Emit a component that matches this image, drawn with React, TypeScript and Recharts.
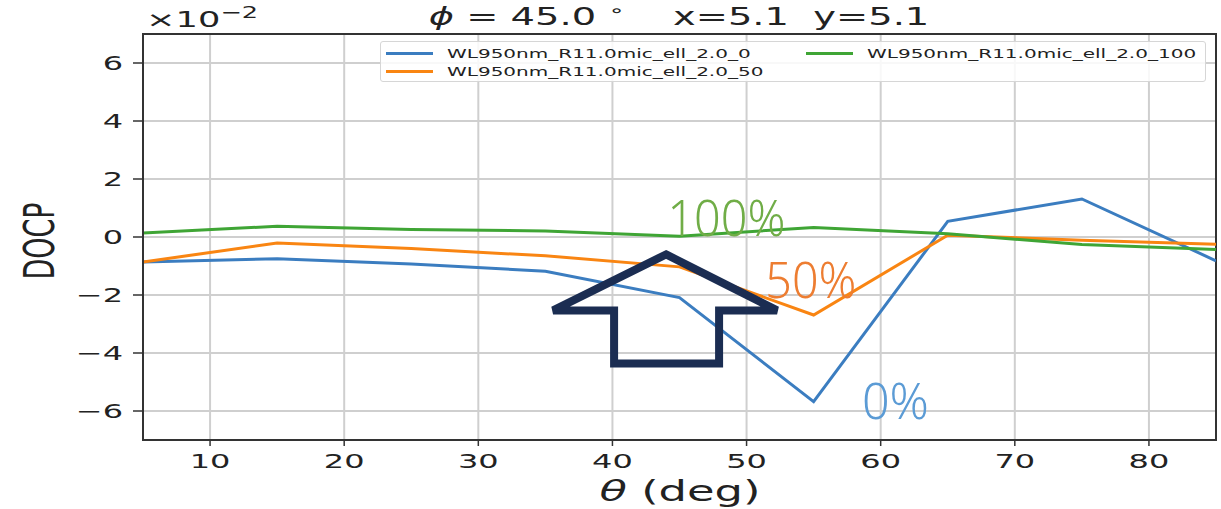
import React from 'react';
import { LineChart, Line, XAxis, YAxis, CartesianGrid, Legend, ReferenceArea, ReferenceDot } from 'recharts';

const thetaDeg = [5, 15, 25, 35, 45, 55, 65, 75, 85];
const docpEll0 = [-0.86, -0.75, -0.93, -1.18, -2.09, -5.68, 0.54, 1.31, -0.82];
const docpEll50 = [-0.86, -0.21, -0.4, -0.65, -1.03, -2.69, 0.06, -0.11, -0.25];
const docpEll100 = [0.14, 0.37, 0.26, 0.21, 0.03, 0.33, 0.11, -0.26, -0.43];
const seriesNames = ['WL950nm_R11.0mic_ell_2.0_0', 'WL950nm_R11.0mic_ell_2.0_50', 'WL950nm_R11.0mic_ell_2.0_100'];
const seriesColors = ['#3b7dc0', '#f98512', '#3fa535'];
const xTicks = [10, 20, 30, 40, 50, 60, 70, 80];
const yTicks = [-6, -4, -2, 0, 2, 4, 6];

// annotation labels drawn over the plot
const noteTexts = ['100%', '50%', '0%'];
const noteTheta = [44.1, 51.4, 58.6];
const noteDocp = [0.05, -2.12, -6.28];
const noteColors = ['#70ad47', '#ed7d31', '#5b9bd5'];
const noteWidths = [118, 91, 67];

const data = thetaDeg.map((t, i) => ({ theta: t, e0: docpEll0[i], e50: docpEll50[i], e100: docpEll100[i] }));

// the source figure is stretched horizontally
const SX = 1.6;
const FONT = 'DejaVu Sans';

const fmt = (v: number) => (v < 0 ? '\u2212' + Math.abs(v) : String(v));

const XTick = (props: any) => {
  const { x, y, payload } = props;
  return (
    <text transform={`translate(${x} ${y + 20}) scale(${SX} 1)`} textAnchor="middle" fontSize={20} fontFamily={FONT} fill="#222">
      {fmt(payload.value)}
    </text>
  );
};

const YTick = (props: any) => {
  const { x, y, payload } = props;
  return (
    <text transform={`translate(${x - 8} ${y + 7}) scale(${SX} 1)`} textAnchor="end" fontSize={20} fontFamily={FONT} fill="#222">
      {fmt(payload.value)}
    </text>
  );
};

const LegendBox = (props: any) => {
  const items = [...(props.payload || [])].sort(
    (a: any, b: any) => seriesNames.indexOf(a.value) - seriesNames.indexOf(b.value)
  );
  const cols = [items.slice(0, 2), items.slice(2)];
  return (
    <div style={{ position: 'relative', width: 826, height: 41, background: 'rgba(255,255,255,0.85)', border: '1px solid #d6d6d6', borderRadius: 3, boxSizing: 'border-box' }}>
      {cols.map((col: any[], c: number) =>
        col.map((it: any, r: number) => (
          <div key={`${c}-${r}`} style={{ position: 'absolute', left: c === 0 ? 5 : 425, top: r === 0 ? 2 : 20, height: 18, display: 'flex', alignItems: 'center' }}>
            <div style={{ width: 47, height: 3, background: it.color }} />
            <div style={{ marginLeft: 14, fontFamily: FONT, fontSize: 12.5, color: '#222', transform: `scaleX(${SX})`, transformOrigin: 'left center', whiteSpace: 'nowrap' }}>
              {it.value}
            </div>
          </div>
        ))
      )}
    </div>
  );
};

const ArrowShape = (props: any) => {
  const { cx, cy } = props;
  const pts = [
    [0, 0], [111, 56], [53, 56], [53, 109], [-52, 109], [-52, 56], [-113, 56],
  ].map(([dx, dy]) => `${cx + dx},${cy + dy}`).join(' ');
  return <polygon points={pts} fill="none" stroke="#1b2d52" strokeWidth={8} strokeLinejoin="miter" />;
};

const noteShape = (i: number) => (props: any) => {
  const { cx, cy } = props;
  return (
    <text x={cx} y={cy} fontSize={50} fontFamily="Noto Sans" fontWeight={300} fill={noteColors[i]} textLength={noteWidths[i]} lengthAdjust="spacingAndGlyphs">
      {noteTexts[i]}
    </text>
  );
};

export default function App() {
  return (
    <div style={{ position: 'absolute', left: 0, top: 0, width: 1221, height: 509, background: '#fff' }}>
      <LineChart width={1221} height={509} data={data} margin={{ top: 34, right: 5, bottom: 9, left: 33 }}>
        <CartesianGrid stroke="#cfcfcf" strokeWidth={2} />
        <XAxis
          dataKey="theta"
          type="number"
          domain={[5, 85]}
          ticks={xTicks}
          height={60}
          tickSize={6}
          tick={<XTick />}
          axisLine={{ stroke: '#333', strokeWidth: 2 }}
          tickLine={{ stroke: '#333', strokeWidth: 1.5 }}
          allowDataOverflow
        />
        <YAxis
          type="number"
          domain={[-7, 7]}
          ticks={yTicks}
          width={110}
          tickSize={10}
          tick={<YTick />}
          axisLine={{ stroke: '#333', strokeWidth: 2 }}
          tickLine={{ stroke: '#333', strokeWidth: 1.5 }}
          allowDataOverflow
        />
        <ReferenceArea x1={5} x2={85} y1={-7} y2={7} fill="none" stroke="#333" strokeWidth={2} />
        <Line dataKey="e0" name={seriesNames[0]} stroke={seriesColors[0]} strokeWidth={3} dot={false} isAnimationActive={false} />
        <Line dataKey="e50" name={seriesNames[1]} stroke={seriesColors[1]} strokeWidth={3} dot={false} isAnimationActive={false} />
        <Line dataKey="e100" name={seriesNames[2]} stroke={seriesColors[2]} strokeWidth={3} dot={false} isAnimationActive={false} />
        <ReferenceDot x={44} y={-0.6} r={0} shape={<ArrowShape />} />
        {noteTexts.map((t, i) => (
          <ReferenceDot key={t} x={noteTheta[i]} y={noteDocp[i]} r={0} shape={noteShape(i)} />
        ))}
        <Legend
          layout="horizontal"
          verticalAlign="middle"
          align="center"
          content={<LegendBox />}
          wrapperStyle={{ left: 380, top: 41, width: 826, height: 41 }}
        />
      </LineChart>
      <svg width={1221} height={509} style={{ position: 'absolute', left: 0, top: 0, pointerEvents: 'none' }}>
        <text transform={`translate(679 25) scale(${SX} 1)`} textAnchor="middle" fontSize={24} fontFamily={FONT} fill="#222" style={{ whiteSpace: 'pre' }}>
          <tspan fontStyle="italic">{'\u03d5'}</tspan>
          {' = 45.0 '}
          <tspan fontSize={16} dy={-9}>{'\u2218'}</tspan>
          <tspan dy={9}>{'    x=5.1  y=5.1'}</tspan>
        </text>
        <text transform={`translate(146 27) scale(${SX} 1)`} fontSize={22} fontFamily={FONT} fill="#222">
          {'\u00d710'}
          <tspan fontSize={16} dy={-9}>{'\u22122'}</tspan>
        </text>
        <text transform={`translate(54 241) scale(${SX} 1) rotate(-90)`} textAnchor="middle" fontSize={27} fontFamily={FONT} fill="#222">
          DOCP
        </text>
        <text transform={`translate(680 501) scale(${SX} 1)`} textAnchor="middle" fontSize={28} fontFamily={FONT} fill="#222">
          <tspan fontStyle="italic">{'\u03b8'}</tspan>
          {' (deg)'}
        </text>
      </svg>
    </div>
  );
}
